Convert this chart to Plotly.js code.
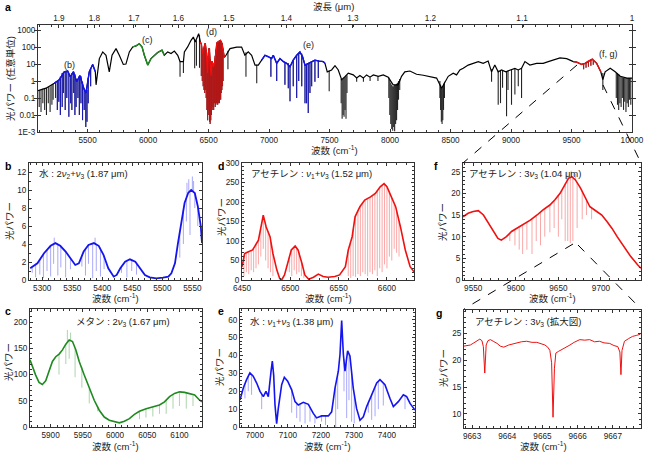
<!DOCTYPE html>
<html><head><meta charset="utf-8">
<script src="https://cdn.plot.ly/plotly-3.0.1.min.js"></script>
<style>html,body{margin:0;padding:0;background:#fff}#chart{width:650px;height:452px}</style>
</head><body><div id="chart"></div>
<script>
// ---------------- DATA ----------------
// Panel a : survey spectrum (wavenumber cm-1, optical power a.u.)
const aNu = [5090,5156,5225,5266,5307,5335,5357,5382,5410,5437,5468,5487,5514,5542,5564,5570,5597,5625,5652,5679,5702,5735,5762,5795,5817,5845,5873,5900,5927,5950,5969,5997,6024,6051,6079,6115,6134,6162,6190,6217,6245,6264,6292,6300,6327,6355,6374,6390,6418,6432,6440,6450,6460,6472,6480,6491,6498,6505,6515,6520,6529,6540,6551,6560,6570,6585,6597,6610,6620,6630,6644,6677,6732,6773,6800,6828,6856,6884,6911,6939,6966,6994,7021,7035,7063,7090,7118,7145,7173,7200,7228,7255,7277,7297,7324,7352,7379,7415,7448,7462,7481,7517,7545,7572,7600,7627,7655,7696,7724,7751,7779,7806,7834,7862,7903,7944,7985,8026,8067,8095,8122,8164,8219,8275,8330,8385,8426,8454,8481,8522,8550,8577,8605,8646,8687,8729,8770,8811,8839,8866,8894,8921,8957,8990,9032,9059,9087,9115,9156,9211,9266,9308,9349,9405,9460,9515,9543,9584,9612,9639,9672,9708,9742,9759,9778,9820,9861,9903,9958,10000];
const aPow = [0.27,0.38,0.74,1.2,3.5,3.9,1.8,3.5,0.93,2.1,0.38,0.2,3.5,9.5,3.5,0.6,21,52,33,3.5,33,81,33,9.5,10,52,102,117,158,102,33,8.7,21,33,48,66,33,52,42,58,33,14,14,52,102,250,390,200,620,200,150,40,70,170,60,3,40,87,8,2,15,7,13,70,180,215,247,170,80,25,33,81,100,100,33,52,33,8.7,8.7,17,33,27,21,33,11,21,14,11,7,17,33,52,27,8.7,11,14,17,15,14,11,3.5,4.5,8,4.5,1.2,1.8,2.9,2.3,1.5,2.1,1.5,2.3,1.7,2.3,1.9,2.3,1.7,0.6,0.6,1.9,3.5,3.9,2.5,2.2,1.9,1.5,0.38,0.93,1.9,2.9,2.3,4.5,5.6,8.7,11,14,11,15,3.5,8.7,3.5,4.5,3.5,4.5,5.6,4.5,5.6,14,8.7,11,11,14,17,23,21,14,13,9.5,11,15,19.5,11,3.5,1.2,3.5,5.6,3.5,1.9,1.5,1.5];
// absorption lines in panel a : position, level above, level at line bottom
const aDipNu  = [5100,5115,5130,5145,5160,5175,5190,5205,5215,5235,5250,5262,5275,5290,5300,5315,5328,5345,5360,5370,5385,5395,5405,5420,5432,5445,5458,5472,5485,5495,5505,5525,6264,6292,6385,6400,6425,6440,6448,6455,6462,6468,6474,6480,6486,6492,6497,6502,6508,6513,6518,6524,6530,6536,6542,6548,6555,6560,6565,6570,6575,6580,6585,6590,6595,6600,6605,6610,6615,6620,6660,6809,6898,7015,7063,7131,7159,7173,7200,7228,7245,7270,7297,7310,7324,7338,7352,7379,7407,7497,7596,7604,7612,7620,7628,7636,7644,7724,7780,7835,7900,7990,7998,8006,8014,8022,8030,8038,8046,8054,8062,8070,8080,8412,8418,8424,8430,8436,8442,8450,8839,8894,8913,8930,8963,8975,9004,9032,9060,9087,9600,9620,9640,9660,9680,9759,9870,9880,9890,9900,9910,9920,9930,9940,9950,9960,9970,9980,9990];
const aDipTop = [0.3,0.3,0.35,0.38,0.4,0.45,0.5,0.6,0.7,0.9,1.0,1.2,1.8,3.0,3.3,3.7,3.9,2.6,1.9,2.8,3.5,2.5,1.3,1.2,2.0,1.9,0.9,0.35,0.2,0.3,1.5,5.5,14,14,300,250,500,120,60,60,80,150,150,60,10,3,30,80,80,20,3,8,15,10,8,10,30,70,130,180,195,205,215,225,240,240,220,170,130,80,60,50,9,25,11,13,11,7,17,33,45,40,9,9,11,12,14,17,15,4,1.3,1.2,1.3,1.5,1.7,1.9,2.2,1.6,1.5,1.7,1.9,1.6,1.2,0.8,0.6,0.5,0.5,0.6,0.6,0.7,0.8,1.0,1.3,1.0,0.6,0.4,0.38,0.5,0.7,0.9,5,4,4,4,3.5,4,4.5,5.6,4.5,5.6,10,12,15,18,17,3,3,2.8,2.5,2.0,1.8,1.7,1.6,1.6,1.5,1.5,1.5,1.5,1.5];
const aDipLow = [0.03,0.015,0.05,0.02,0.01,0.05,0.015,0.04,0.08,0.1,0.02,0.06,0.01,0.03,0.2,0.02,0.1,0.008,0.05,0.02,0.2,0.01,0.03,0.1,0.01,0.05,0.005,0.02,0.002,0.004,0.05,0.5,1.8,3,5.6,8,6,2,1,0.5,0.3,0.2,0.3,0.1,0.02,0.005,0.01,0.02,0.004,0.003,0.005,0.01,0.02,0.03,0.02,0.05,0.03,0.04,0.05,0.06,0.04,0.05,0.07,0.05,0.1,0.08,0.2,0.3,0.5,1,5,1.8,0.74,1.8,1,0.6,0.38,0.065,0.5,0.1,1,0.5,0.05,0.05,0.013,0.2,0.5,0.9,1.5,0.25,0.05,0.006,0.01,0.008,0.02,0.006,0.2,0.9,0.9,1.0,1.0,0.1,0.01,0.003,0.0015,0.0012,0.002,0.0011,0.003,0.005,0.02,0.08,0.3,0.1,0.02,0.004,0.003,0.005,0.02,0.1,0.9,0.04,0.05,0.4,0.0085,0.3,0.04,0.16,0.5,0.1,5,6,7,8,9,0.3,0.1,0.04,0.02,0.05,0.03,0.1,0.02,0.06,0.015,0.05,0.03,0.08,0.04];
// wavenumber windows shown in panels b, c, d, e, f
const regionLo = [5225,5868,6432,6935,9515];
const regionHi = [5568,6135,6630,7470,9745];
// top axis wavelengths (um)
const wlTicks = [1.9,1.8,1.7,1.6,1.5,1.4,1.3,1.2,1.1,1.0];
const wlLabels = ['1.9','1.8','1.7','1.6','1.5','1.4','1.3','1.2','1.1','1'];
const aYTicks = [0.001,0.01,0.1,1,10,100,1000];
const aYLabels = ['1E-3','0.01','0.1','1','10','100','1000'];

// Panel b : water 2v2+v3
const bNu  = [5280,5292,5303,5314,5322,5330,5339,5347,5355,5361,5369,5377,5386,5394,5402,5410,5419,5424,5430,5438,5446,5455,5463,5471,5479,5490,5501,5510,5515,5521,5526,5532,5537,5543,5548,5554,5559,5564,5566];
const bPow = [1.3,1.86,2.97,3.8,4.1,3.8,3.16,2.4,1.67,1.86,3.16,3.9,4.1,3.8,2.8,1.3,0.37,0.56,1.3,2.04,2.3,2.04,1.3,0.56,0.3,0.19,0.26,0.37,0.74,1.86,4.1,6.7,8.55,9.67,10.0,9.67,8.2,5.95,4.1];
const bDipNu  = [5283.4,5289,5296,5302,5308,5314,5319,5326,5331,5339,5347,5366,5372,5377,5384,5390,5397,5403,5432,5441,5449,5457,5529,5535,5540,5546,5554,5559,5320,5388,5541,5544,5550,5552];
const bDipTop = [1.5,1.8,2.3,2.9,3.4,3.8,4.0,4.0,3.8,3.2,2.4,2.8,3.5,3.9,4.1,4.0,3.6,2.7,1.5,2.1,2.3,1.9,5.5,7.8,9.0,9.9,9.7,8.2,4.1,4.1,9.4,9.7,10,9.9];
const bDipLow = [0.8,0.3,0.6,0.2,1.0,0.4,1.8,0.5,1.4,0.3,1.2,1.5,0.5,1.8,0.2,1.0,0.4,1.2,0.8,0.3,1.0,0.6,2.5,4.0,6.5,5.0,8.0,6.0,4.7,4.7,10.8,11.2,11.5,11.0];

// Panel c : methane 2v3
const cNu  = [5868,5871.6,5876.8,5882,5887.2,5892.4,5897.6,5902.8,5908,5913.2,5918.4,5923.6,5928.8,5934,5939.2,5944.4,5952.2,5960,5967.7,5975.5,5983.3,5991.1,5998.9,6006.7,6014.5,6022.3,6030.1,6037.9,6048.3,6058.7,6069,6076.8,6084.6,6092.4,6100.2,6108,6115.8,6123.6,6131.4,6135];
const cPow = [128,115,99,85,81,88,105,125,134,139,147,158,166,163,147,125,99,73,51,32,19,13,11,8,11,16,24,30,35,38,42,48,58,64,67,66,64,61,51,48];
const cDipNu  = [5913,5923.6,5928.8,5938,5948.5,5960,5973,6038,6048,6058.7,6069,6079.4,6090,6100,6110.6,6121,5926,5931];
const cDipTop = [139,158,166,150,115,73,40,30,35,38,42,52,63,67,65,60,162,166];
const cDipLow = [100,120,130,95,75,45,30,15,18,20,25,25,35,40,35,40,185,180];

// Panel d : acetylene v1+v3
const dNu  = [6450,6452.8,6456,6461,6467,6470,6472,6475,6479,6482,6486,6489,6491,6494,6498,6501,6505,6508,6512,6515,6519,6524,6529,6534,6539,6546,6551,6557,6560,6564,6567,6572,6577,6583,6588,6593,6597,6600,6603,6609,6614,6619,6624,6628];
const dPow = [34,68,72,77,102,141,166,136,111,68,26,4,0,13,51,77,87,77,43,13,2,7,15,9,7,9,13,34,77,111,162,188,205,213,222,239,247,239,222,188,136,77,34,21];
const dDipNu  = [6452,6454.5,6457,6459.5,6462,6464.5,6467,6469.5,6472,6474.5,6477,6479.5,6482,6499,6501.5,6504,6506.5,6509,6511.5,6514,6560,6562.5,6565,6567.5,6570,6572.5,6575,6577.5,6580,6582.5,6585,6587.5,6590,6592.5,6595,6597.5,6600,6602.5,6605,6607.5,6610,6612.5];
const dDipTop = [66,70,72,75,80,90,102,130,166,140,125,105,68,60,78,86,84,72,48,20,77,95,130,165,178,190,198,205,209,212,216,221,230,238,243,246,239,224,210,195,178,150];
const dDipLow = [10,20,15,25,20,30,40,60,80,50,30,20,10,20,10,25,15,20,10,5,10,5,10,8,15,10,20,15,10,20,15,25,10,30,20,40,30,60,50,80,70,60];

// Panel e : water v1+v3
const eNu  = [6955,6965,6975,6985,6995,7005.5,7015.6,7025.7,7033.7,7040.8,7048.9,7052.9,7057,7061,7066,7071,7081.2,7089.3,7099.4,7111.5,7121.6,7131.7,7146.8,7162,7177,7187,7202,7222.5,7232.6,7242.7,7252.8,7257.9,7262.9,7268,7273,7281,7288,7298,7308,7318.4,7328.5,7338.6,7353.8,7369,7379,7394,7409,7419.4,7434.5,7449.7,7459.8,7470,7485];
const ePow = [15.1,21.8,26.5,30.3,28.4,24.6,19.9,17.0,19.9,17,31,36.9,29,12.3,1.9,10.4,23.7,27.8,25.6,20.8,14.2,12.3,13.8,12.7,7.6,5.1,6.2,6.2,8.5,21.8,31.2,40.7,59.6,40.7,31.2,42.6,39.7,21.8,10.4,3.8,5.7,11.4,18.0,24.6,26.5,23.7,16.1,11.4,14.2,18,17,13.2,9.5];
const eDipNu  = [6970,6980,6990,7020.6,7111.5,7126.6,7136.7,7152,7167,7182,7202,7214,7244.7,7250.8,7270,7278,7285,7293,7301,7343.7,7353.8,7364,7374,7389,7454.7];
const eDipTop = [24,28.5,29.5,18.5,21.5,13.2,12.5,13.5,11,6.5,6.2,6.2,22,29,38,36,41,30,18,14,18,22,25.5,24.5,17.5];
const eDipLow = [16,20,18,10,8,5,3,2,3,2,3,1,0,10,20,5,15,3,2,8,4,6,10,12,10];

// Panel f : acetylene 3v3
const fNu  = [9538,9544,9550,9556,9562,9568,9574,9579,9583,9589,9595,9601,9609,9617,9625,9632,9640,9646,9652,9658,9662,9666,9670,9676,9682,9687,9695,9701,9707,9713,9719,9727,9735,9743,9747];
const fPow = [14.6,15.4,15.8,16.0,15.0,13.1,11.2,9.6,9.2,10.0,11.2,11.9,12.7,13.8,15.0,16.2,17.3,18.5,20.0,22.3,23.5,23.8,23.1,21.2,18.8,16.9,15.8,15.0,13.5,11.9,10.0,7.7,5.4,3.5,2.7];
const fDipNu  = [9593,9599,9604,9608,9613,9619,9624,9629,9634,9640,9645,9650,9654,9658,9661,9664,9667,9672,9678,9683,9689,9660,9665,9670];
const fDipTop = [10.8,11.6,12.2,12.6,13.2,14.0,14.8,15.7,16.4,17.3,18.3,19.5,20.8,22.3,23.2,23.7,23.7,22.5,20.4,18.4,16.6,23,23.8,23.1];
const fDipLow = [9,8,7,6,7,6,9,8,10,11,12,10,14,9,9,8.5,9,12,14,15,14,25,25.2,24.5];

// Panel g : acetylene 3v3 (zoom)
const gNu  = [9662.77,9662.95,9663.05,9663.14,9663.22,9663.28,9663.32,9663.36,9663.40,9663.45,9663.52,9663.6,9663.71,9663.8,9663.9,9664.04,9664.15,9664.27,9664.4,9664.55,9664.7,9664.84,9664.95,9665.07,9665.15,9665.21,9665.26,9665.3,9665.34,9665.38,9665.45,9665.54,9665.65,9665.78,9665.9,9666.06,9666.2,9666.34,9666.48,9666.62,9666.75,9666.91,9667.03,9667.14,9667.2,9667.23,9667.26,9667.33,9667.45,9667.56,9667.68,9667.78];
const gPow = [22.6,22.8,23.2,23.6,23.9,23.6,22.5,17.6,22.8,23.6,23.8,23.5,23.1,22.6,22.4,22.8,23.0,23.3,23.4,23.5,23.3,23.3,23.0,22.8,22.4,21.8,19.5,9.4,18.5,21.3,21.6,21.9,22.3,22.8,23.3,23.8,23.7,23.8,23.4,23.5,23.2,23.1,22.7,22.5,21.5,17.3,21.8,23.5,24.0,24.4,24.6,24.8];

// ---------------- STYLE / LAYOUT ----------------
const W = 650, H = 452;
const FONT = '"Liberation Sans", Arial, "Noto Sans CJK JP", sans-serif';
const INK = '#222';
const BLUE = '#1414f0', RED = '#f01010', GREEN = '#1f8a1f', BLACK = '#000000';
const regionColor = [BLUE, GREEN, RED, BLUE, RED];

function px(x){ return x / W; }
function py(y){ return 1 - y / H; }

function dips(nu, top, low, xa, ya, color, opacity, width){
  const x = [], y = [];
  for (let i = 0; i < nu.length; i++){ x.push(nu[i], nu[i], null); y.push(top[i], low[i], null); }
  return {type:'scatter', mode:'lines', x, y, xaxis:xa, yaxis:ya, hoverinfo:'skip',
          line:{color, width}, opacity, showlegend:false};
}
function curve(nu, p, xa, ya, color, width){
  return {type:'scatter', mode:'lines', x:nu, y:p, xaxis:xa, yaxis:ya, hoverinfo:'skip',
          line:{color, width}, showlegend:false};
}
function pick(nu, vals, lo, hi){
  const out = [];
  for (let i = 0; i < nu.length; i++) if (nu[i] >= lo && nu[i] <= hi) out.push(vals[i]);
  return out;
}

const traces = [];
// panel a
traces.push(dips(aDipNu, aDipTop, aDipLow, 'x', 'y', BLACK, 0.85, 1.1));
traces.push(curve(aNu, aPow, 'x', 'y', BLACK, 1.2));
for (let r = 0; r < regionLo.length; r++){
  const lo = regionLo[r], hi = regionHi[r];
  traces.push(dips(pick(aDipNu, aDipNu, lo, hi), pick(aDipNu, aDipTop, lo, hi), pick(aDipNu, aDipLow, lo, hi), 'x', 'y', regionColor[r], 0.7, 1.1));
  traces.push(curve(pick(aNu, aNu, lo, hi), pick(aNu, aPow, lo, hi), 'x', 'y', regionColor[r], 1.4));
}
// invisible trace so the top wavelength axis is drawn
traces.push({type:'scatter', mode:'markers', x:[5090,10000], y:[1,1], xaxis:'x2', yaxis:'y',
  marker:{opacity:0}, hoverinfo:'skip', showlegend:false});
// panels
traces.push(dips(bDipNu, bDipTop, bDipLow, 'x3', 'y3', BLUE, 0.45, 0.8));
traces.push(curve(bNu, bPow, 'x3', 'y3', BLUE, 1.8));
traces.push(dips(dDipNu, dDipTop, dDipLow, 'x4', 'y4', RED, 0.45, 0.8));
traces.push(curve(dNu, dPow, 'x4', 'y4', RED, 1.6));
traces.push(dips(fDipNu, fDipTop, fDipLow, 'x5', 'y5', RED, 0.45, 0.8));
traces.push(curve(fNu, fPow, 'x5', 'y5', RED, 1.6));
traces.push(dips(cDipNu, cDipTop, cDipLow, 'x6', 'y6', GREEN, 0.45, 0.8));
traces.push(curve(cNu, cPow, 'x6', 'y6', GREEN, 1.6));
traces.push(dips(eDipNu, eDipTop, eDipLow, 'x7', 'y7', BLUE, 0.45, 0.8));
traces.push(curve(eNu, ePow, 'x7', 'y7', BLUE, 1.6));
traces.push(curve(gNu, gPow, 'x8', 'y8', RED, 1.0));

const tickfont = {family:FONT, size:8.2, color:INK};
function axis(domain, range, anchor, extra){
  return Object.assign({domain, range, anchor, showline:true, linecolor:'#333', linewidth:1,
    mirror:'allticks', ticks:'inside', ticklen:3, tickcolor:'#333', tickwidth:1,
    tickfont, zeroline:false, showgrid:false, fixedrange:true}, extra||{});
}
const minor = (d) => ({dtick:d, ticks:'inside', ticklen:1.8, tickcolor:'#333', showgrid:false});

const rowTop = [py(280), py(163)];
const rowBot = [py(427), py(309)];

const layout = {
  width:W, height:H, margin:{l:0,r:0,t:0,b:0}, paper_bgcolor:'#fff', plot_bgcolor:'#fff',
  font:{family:FONT, color:INK}, showlegend:false,
  xaxis: axis([px(38), px(632)], [5090,10000], 'y', {tick0:5000, dtick:500, tickformat:'d', minor:minor(100), mirror:'ticks'}),
  xaxis2: {overlaying:'x', side:'top', anchor:'y', range:[5090,10000], tickmode:'array',
           tickvals: wlTicks.map(l => 1e4 / l), ticktext: wlLabels, ticks:'inside', ticklen:3,
           tickcolor:'#333', tickfont, showline:true, linecolor:'#333', showgrid:false, zeroline:false, fixedrange:true},
  yaxis: axis([py(132), py(25)], [-3, 3.3], 'x', {type:'log', tickmode:'array', tickvals:aYTicks, ticktext:aYLabels}),
  xaxis3: axis([px(29), px(202)], [5278,5566], 'y3', {tick0:5300, dtick:50, minor:minor(10)}),
  yaxis3: axis(rowTop, [0,13], 'x3', {dtick:2, minor:minor(1)}),
  xaxis4: axis([px(242), px(414)], [6450,6628], 'y4', {tick0:6450, dtick:50, minor:minor(10)}),
  yaxis4: axis(rowTop, [0,300], 'x4', {dtick:50, minor:minor(10)}),
  xaxis5: axis([px(463), px(641)], [9538,9747], 'y5', {tick0:9550, dtick:50, minor:minor(10)}),
  yaxis5: axis(rowTop, [0,27], 'x5', {dtick:5, minor:minor(1)}),
  xaxis6: axis([px(30), px(202)], [5868,6135], 'y6', {tick0:5900, dtick:50, minor:minor(10)}),
  yaxis6: axis(rowBot, [0,225], 'x6', {dtick:50, minor:minor(10)}),
  xaxis7: axis([px(240), px(415)], [6955,7485], 'y7', {tick0:7000, dtick:100, minor:minor(20)}),
  yaxis7: axis(rowBot, [0,66], 'x7', {dtick:10, minor:minor(2)}),
  xaxis8: axis([px(464), px(641)], [9662.77,9667.8], 'y8', {tick0:9663, dtick:1, tickformat:'d', minor:minor(0.2)}),
  yaxis8: axis([py(428), py(310)], [7.4,29.3], 'x8', {tick0:10, dtick:5, minor:minor(1)}),
  shapes: [
    [577,65,463,163],[603,85,641,163],[573,244,464,309],[578,245,641,309]
  ].map(s => ({type:'line', xref:'paper', yref:'paper', x0:px(s[0]), y0:py(s[1]), x1:px(s[2]), y1:py(s[3]),
               line:{color:'#000', width:1, dash:'dash'}})),
  annotations: []
};

function ann(text, x, y, opts){
  layout.annotations.push(Object.assign({text, x:px(x), y:py(y), xref:'paper', yref:'paper',
    showarrow:false, xanchor:'left', yanchor:'middle', font:{family:FONT, size:9.5, color:INK}}, opts||{}));
}
const bold = {font:{family:FONT, size:10.5, color:'#000', weight:'bold'}};
ann('<b>a</b>', 3, 7, bold);
ann('<b>b</b>', 3, 166, bold);
ann('<b>d</b>', 216, 166, bold);
ann('<b>f</b>', 432, 166, bold);
ann('<b>c</b>', 3, 311, bold);
ann('<b>e</b>', 216, 311, bold);
ann('<b>g</b>', 434, 313, bold);

ann('波長 (μm)', 333, 7, {xanchor:'center'});
ann('光パワー (任意単位)', 10, 79, {xanchor:'center', textangle:-90});
ann('波数 (cm<sup>-1</sup>)', 335, 150, {xanchor:'center'});
const small = {xanchor:'center', font:{family:FONT, size:9, color:INK}};
ann('(b)', 69, 65, small);
ann('(c)', 147, 40, small);
ann('(d)', 211, 32, small);
ann('(e)', 308, 45, small);
ann('(f, g)', 608, 54, small);

const xt = '波数 (cm<sup>-1</sup>)';
ann(xt, 115, 298, {xanchor:'center'});
ann(xt, 328, 298, {xanchor:'center'});
ann(xt, 552, 298, {xanchor:'center'});
ann(xt, 116, 446, {xanchor:'center'});
ann(xt, 327, 446, {xanchor:'center'});
ann(xt, 543, 446, {xanchor:'center'});
ann('光パワー', 10, 221, {xanchor:'center', textangle:-90});
ann('光パワー', 221, 217, {xanchor:'center', textangle:-90});
ann('光パワー', 442, 222, {xanchor:'center', textangle:-90});
ann('光パワー', 8, 362, {xanchor:'center', textangle:-90});
ann('光パワー', 219, 367, {xanchor:'center', textangle:-90});
ann('光パワー', 443, 368, {xanchor:'center', textangle:-90});

ann('水 : 2<i>ν</i><sub>2</sub>+<i>ν</i><sub>3</sub> (1.87 μm)', 37, 174);
ann('アセチレン : <i>ν</i><sub>1</sub>+<i>ν</i><sub>3</sub> (1.52 μm)', 249, 174);
ann('アセチレン : 3<i>ν</i><sub>3</sub> (1.04 μm)', 467, 174);
ann('メタン : 2<i>ν</i><sub>3</sub> (1.67 μm)', 123, 322, {xanchor:'center'});
ann('水 : <i>ν</i><sub>1</sub>+<i>ν</i><sub>3</sub> (1.38 μm)', 248, 322);
ann('アセチレン : 3<i>ν</i><sub>3</sub> (拡大図)', 473, 322);

Plotly.newPlot('chart', traces, layout, {staticPlot:true, displayModeBar:false});
</script></body></html>
